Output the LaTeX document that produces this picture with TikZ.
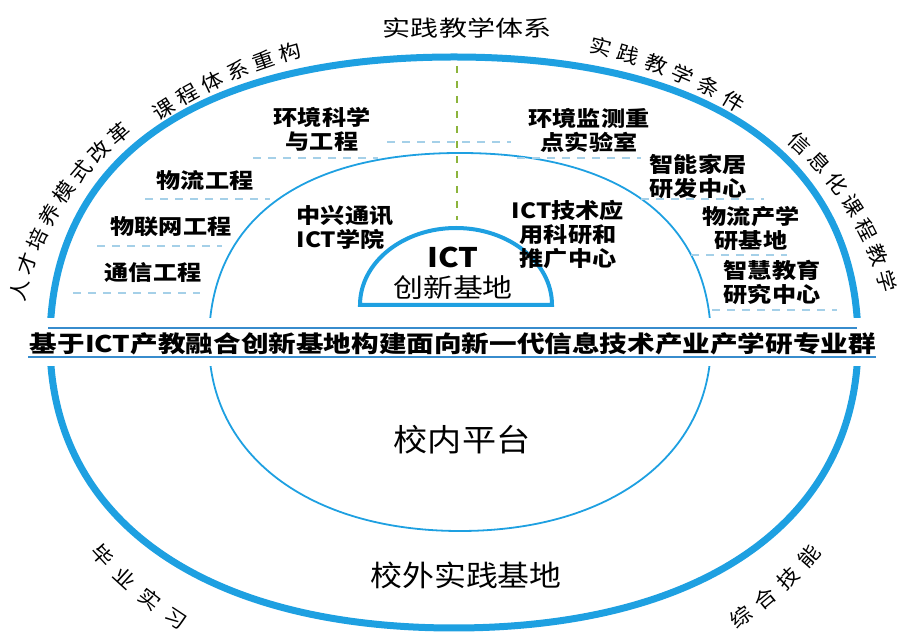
\documentclass[tikz,border=0pt]{standalone}
\usepackage{fontspec}
\usetikzlibrary{decorations.text}
\newfontfamily\hei[FakeStretch=1.15]{Noto Sans CJK SC}
\newfontfamily\song[FakeStretch=1.1]{Noto Sans CJK SC}
\newcommand\arcfont{\song\fontsize{20}{20}\selectfont}
% cx, cy, rx, ry oben, ry unten, k oben, k unten
\newcommand\fullring[7]{({#1+#3},#2)
  .. controls ({#1+#3},{#2+#6*#4}) and ({#1+#6*#3},{#2+#4}) .. ({#1},{#2+#4})
  .. controls ({#1-#6*#3},{#2+#4}) and ({#1-#3},{#2+#6*#4}) .. ({#1-#3},#2)
  .. controls ({#1-#3},{#2-#7*#5}) and ({#1-#7*#3},{#2-#5}) .. ({#1},{#2-#5})
  .. controls ({#1+#7*#3},{#2-#5}) and ({#1+#3},{#2-#7*#5}) .. cycle}
\definecolor{ringblue}{RGB}{30,160,225}
\definecolor{dashblue}{RGB}{165,208,232}
\definecolor{axisgreen}{RGB}{140,180,60}
\definecolor{bandblue}{RGB}{55,140,205}
\begin{document}
\begin{tikzpicture}[x=1pt,y=1pt,
ring0/.style={line width=7pt,draw=ringblue},
ring1/.style={line width=1.8pt,draw=ringblue},
core/.style={line width=4pt,draw=ringblue,fill=white},
lbl/.style={font=\hei\bfseries\fontsize{21}{24}\selectfont,align=center,inner sep=0pt},
big/.style={font=\song\fontsize{29}{29}\selectfont,inner sep=0pt},
sep/.style={draw=dashblue,line width=1.8pt,dash pattern=on 8pt off 7pt},
arctext/.style={decorate,decoration={text along path,text align={fit to path},raise=-7pt,text={|\arcfont|#1}}},
]
\useasboundingbox (0,0) rectangle (908,632);

% Ringe
\draw[ring0] \fullring{454}{290}{404}{285}{286}{0.64}{0.62};
\draw[ring1] \fullring{460}{290}{251}{189}{189}{0.64}{0.60};
\draw[axisgreen,line width=1.8pt,dash pattern=on 7pt off 8pt] (457,566) -- (457,412);
\draw[core] (360,327) arc[start angle=180,end angle=0,x radius=96,y radius=77] -- cycle;

% Trennlinien
\foreach \xa/\xb/\yy in {253/378/474, 387/511/490, 145/270/433, 97/222/386, 73/200/339,
                         517/641/474, 641/764/433, 691/787/377, 712/837/322}
  \draw[sep] (\xa,\yy) -- (\xb,\yy);

% Band
\fill[white] (20,266) rectangle (890,314);
\draw[bandblue,line width=1.4pt] (48,304) -- (857,304);
\draw[bandblue,line width=1.4pt] (28,275) -- (876,275);
\node[inner sep=0pt] (band) at (453,288) {\resizebox{846pt}{\height}{\hei\bfseries\fontsize{23}{23}\selectfont 基于ICT产教融合创新基地构建面向新一代信息技术产业产学研专业群}};

% Kern
\node[inner sep=0pt,font=\hei\bfseries\fontsize{27}{27}\selectfont] (ict) at (453,375) {ICT};
\node[inner sep=0pt,font=\hei\fontsize{26}{26}\selectfont] (cxjd) at (453,344) {创新基地};

% Fachrichtungen links
\node[lbl] (hjkx) at (322,503) {环境科学\\与工程};
\node[lbl] (wlgc) at (205,452) {物流工程};
\node[lbl] (wlwgc) at (171,405) {物联网工程};
\node[lbl] (txgc) at (153,359) {通信工程};
\node[lbl,align=left] (zxtx) at (345,405) {中兴通讯\\ICT学院};

% Einrichtungen rechts
\node[lbl] (hjjc) at (589,502) {环境监测重\\点实验室};
\node[lbl] (znjj) at (698,456) {智能家居\\研发中心};
\node[lbl] (ictyy) at (568,397) {ICT技术应\\用科研和\\推广中心};
\node[lbl] (wlcx) at (751,403) {物流产学\\研基地};
\node[lbl] (zhjy) at (772,350) {智慧教育\\研究中心};

% Plattformen
\node[big,font=\song\fontsize{31}{31}\selectfont] (xnpt) at (462,192) {校内平台};
\node[big] (xwsj) at (466,57) {校外实践基地};
\node[inner sep=0pt] (sjtx) at (467,604) {\resizebox{168pt}{\height}{\song\fontsize{22}{22}\selectfont 实践教学体系}};

% Bogenbeschriftung
\path[arctext={人才培养模式改革}] (454,290) ++(172.6:440pt and 320pt) arc[start angle=172.6,end angle=137.8,x radius=440pt,y radius=320pt];
\path[arctext={课程体系重构}] (454,290) ++(133.4:436pt and 312pt) arc[start angle=133.4,end angle=110.6,x radius=436pt,y radius=312pt];
\path[arctext={实践教学条件}] (454,290) ++(71.8:436pt and 313pt) arc[start angle=71.8,end angle=48.5,x radius=436pt,y radius=313pt];
\path[arctext={信息化课程教学}] (454,290) ++(40:440pt and 320pt) arc[start angle=40,end angle=9,x radius=440pt,y radius=320pt];
\path[arctext={毕业实习}] (454,290) ++(215.2:440pt and 357pt) arc[start angle=215.2,end angle=232.3,x radius=440pt,y radius=357pt];
\path[arctext={综合技能}] (454,290) ++(309.2:440pt and 364pt) arc[start angle=309.2,end angle=325.5,x radius=440pt,y radius=364pt];
\end{tikzpicture}
\end{document}
